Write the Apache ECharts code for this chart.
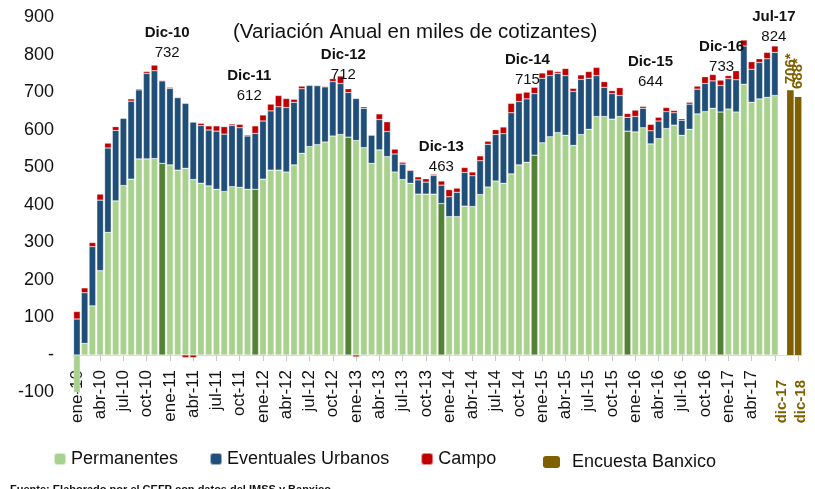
<!DOCTYPE html>
<html>
<head>
<meta charset="utf-8">
<script src="https://cdn.jsdelivr.net/npm/echarts@6/dist/echarts.min.js"></script>
<style>
  html, body { margin: 0; padding: 0; background: #fff; }
  #main { width: 815px; height: 489px; }
</style>
</head>
<body>
<div id="main"></div>
<script>
// categorias (ene-10 .. jul-17, hueco, dic-17, dic-18)
var meses = [
  'ene-10','feb-10','mar-10','abr-10','may-10','jun-10','jul-10','ago-10','sep-10','oct-10','nov-10','dic-10',
  'ene-11','feb-11','mar-11','abr-11','may-11','jun-11','jul-11','ago-11','sep-11','oct-11','nov-11','dic-11',
  'ene-12','feb-12','mar-12','abr-12','may-12','jun-12','jul-12','ago-12','sep-12','oct-12','nov-12','dic-12',
  'ene-13','feb-13','mar-13','abr-13','may-13','jun-13','jul-13','ago-13','sep-13','oct-13','nov-13','dic-13',
  'ene-14','feb-14','mar-14','abr-14','may-14','jun-14','jul-14','ago-14','sep-14','oct-14','nov-14','dic-14',
  'ene-15','feb-15','mar-15','abr-15','may-15','jun-15','jul-15','ago-15','sep-15','oct-15','nov-15','dic-15',
  'ene-16','feb-16','mar-16','abr-16','may-16','jun-16','jul-16','ago-16','sep-16','oct-16','nov-16','dic-16',
  'ene-17','feb-17','mar-17','abr-17','may-17','jun-17','jul-17'
];
var proyecciones = ['dic-17', 'dic-18'];

// miles de cotizantes
var permanentes = [
  -100, 31, 131, 225, 327, 411, 452, 469, 523, 523, 524, 511,
  507, 493, 498, 468, 458, 451, 442, 436, 449, 447, 442, 442,
  469, 493, 493, 488, 507, 538, 556, 561, 568, 584, 588, 581,
  572, 553, 511, 547, 529, 488, 468, 458, 429, 429, 429, 404,
  369, 369, 397, 396, 428, 448, 464, 458, 483, 507, 514, 533,
  566, 582, 593, 586, 559, 588, 602, 636, 636, 629, 636, 597,
  595, 606, 563, 577, 604, 613, 586, 602, 643, 649, 658, 648,
  656, 648, 722, 674, 683, 687, 692
];
var eventuales = [
  96, 135, 158, 188, 225, 188, 179, 208, 184, 228, 234, 220,
  204, 193, 173, 153, 154, 149, 155, 153, 163, 159, 142, 149,
  155, 158, 169, 172, 167, 172, 163, 157, 147, 145, 136, 119,
  112, 105, 75, 81, 67, 48, 41, 34, 38, 32, 50, 49,
  53, 65, 90, 82, 90, 114, 124, 132, 163, 169, 169, 164,
  172, 163, 158, 159, 144, 147, 136, 109, 78, 68, 56, 37,
  41, 52, 35, 47, 45, 33, 40, 67, 66, 75, 73, 71,
  81, 86, 102, 88, 97, 103, 115
];
var campo = [
  20, 13, 11, 16, 13, 10, -1, 6, 3, 5, 15, 2,
  3, 2, -7, -7, 6, 11, 14, 20, 4, 9, 3, 20,
  16, 18, 30, 24, 8, 7, -1, 2, 2, 8, 20, 10,
  -5, 4, -1, 15, 26, 13, 5, 2, 8, 9, 3, 11,
  19, 11, 13, 10, 13, 8, 13, 18, 25, 22, 18, 17,
  14, 15, 5, 19, 8, 12, 18, 22, 15, 8, 21, 10,
  17, 5, 17, 10, 11, 6, 4, 5, 8, 18, 17, 14,
  8, 24, 16, 20, 10, 17, 17
];
var encuestaBanxico = [706, 688];

// anotaciones
var notaMes = ['dic-10', 'dic-11', 'dic-12', 'dic-13', 'dic-14', 'dic-15', 'dic-16', 'jul-17'];
var notaTexto = ['Dic-10', 'Dic-11', 'Dic-12', 'Dic-13', 'Dic-14', 'Dic-15', 'Dic-16', 'Jul-17'];
var notaValor = [732, 612, 712, 463, 715, 644, 733, 824];
var notaOffset = [[5, -37], [-6, -40], [-5, -24], [0, -24], [-7, -17], [23, -42], [1, -23], [-1, -19]];

var categorias = meses.concat([''], proyecciones);
var n = categorias.length;

function pad(arr) {
  var out = arr.slice();
  while (out.length < n) out.push('-');
  return out;
}

var verde = '#A9D18E', verdeOscuro = '#548235', azul = '#1F4E79', rojo = '#C00000', oro = '#7F6000';
var fuente = "'Liberation Sans', Arial, sans-serif";

var permData = pad(permanentes).map(function (v, i) {
  if (v === '-') return v;
  if (meses[i].indexOf('dic') === 0) return { value: v, itemStyle: { color: verdeOscuro } };
  return v;
});

var banxicoOffset = [[2, 0], [4, 0]];
var banxicoData = [];
for (var i = 0; i < n; i++) {
  var k = proyecciones.indexOf(categorias[i]);
  banxicoData.push(k >= 0 ? { value: encuestaBanxico[k], label: { offset: banxicoOffset[k] } } : '-');
}

var marcas = notaMes.map(function (m, j) {
  var idx = meses.indexOf(m);
  var total = Math.max(permanentes[idx], 0) + eventuales[idx] + Math.max(campo[idx], 0);
  return {
    coord: [m, total],
    label: {
      formatter: '{n|' + notaTexto[j] + '}\n{v|' + notaValor[j] + '}',
      offset: notaOffset[j]
    }
  };
});

var myChart = echarts.init(document.getElementById('main'));

var borde = { borderColor: 'rgba(255,255,255,0.55)', borderWidth: 0.5 };
var textoLeyenda = { fontFamily: fuente, fontSize: 18, color: '#111' };
var etiquetaOro = { color: oro, fontWeight: 'bold', fontSize: 15, fontFamily: fuente };

var ejeBase = {
  type: 'category',
  position: 'bottom',
  data: categorias,
  // eje en el cero (375 px de alto, -100..900)
  offset: -37.5
};

var option = {
  animation: false,
  textStyle: { fontFamily: fuente },
  title: [{
    text: '(Variación Anual en miles de cotizantes)',
    left: 228, top: 17,
    textStyle: { fontFamily: fuente, fontSize: 20.5, fontWeight: 'normal', color: '#111' }
  }, {
    text: 'Fuente: Elaborado por el CEFP con datos del IMSS y Banxico.',
    left: 5, top: 479,
    textStyle: { fontFamily: fuente, fontSize: 11, fontWeight: 'bold', color: '#111' }
  }],
  legend: [{
    left: 53, top: 450, padding: 0,
    itemWidth: 12, itemHeight: 12, itemGap: 31,
    textStyle: textoLeyenda,
    data: ['Permanentes', 'Eventuales Urbanos', 'Campo']
  }, {
    left: 543, top: 453, padding: 0,
    itemWidth: 17, itemHeight: 12,
    textStyle: Object.assign({ padding: [0, 0, 0, 7] }, textoLeyenda),
    data: ['Encuesta Banxico']
  }],
  grid: { left: 73, right: 13, top: 17.5, bottom: 96.5 },
  xAxis: [Object.assign({}, ejeBase, {
    axisLine: { onZero: false, lineStyle: { color: '#D9D9D9' } },
    axisTick: {
      show: true, alignWithLabel: true, length: 6,
      interval: function (i) { return i % 3 === 0; },
      lineStyle: { color: '#C8C8C8' }
    },
    axisLabel: {
      rotate: 90, margin: 15, hideOverlap: false,
      fontFamily: fuente, fontSize: 17, color: '#111',
      interval: function (i, v) {
        if (v === 'dic-17') return true;
        return v !== '' && v !== 'jul-17' && v !== 'dic-18' && i % 3 === 0;
      },
      formatter: function (v) {
        return v === 'dic-17' ? '{g|' + v + '}' : v;
      },
      rich: { g: Object.assign({ padding: [0, 10, 18, 0] }, etiquetaOro) }
    }
  }), Object.assign({}, ejeBase, {
    // segunda capa solo para la etiqueta dic-18
    axisLine: { show: false, onZero: false },
    axisTick: { show: false },
    axisLabel: {
      rotate: 90, margin: 15,
      interval: function (i, v) { return v === 'dic-18'; },
      formatter: function (v) { return '{g|' + v + '}'; },
      rich: { g: Object.assign({ padding: [6, 10, 0, 0] }, etiquetaOro) }
    }
  })],
  yAxis: {
    type: 'value',
    min: -100, max: 900, interval: 100,
    splitLine: { show: false },
    axisLine: { show: false },
    axisTick: { show: false },
    axisLabel: {
      margin: 19, fontFamily: fuente, fontSize: 18, color: '#111',
      formatter: function (v) { return v === 0 ? '-' : v; }
    }
  },
  series: [{
    name: 'Permanentes', type: 'bar', stack: 'total',
    barCategoryGap: '15%',
    itemStyle: Object.assign({ color: verde }, borde),
    data: permData
  }, {
    name: 'Eventuales Urbanos', type: 'bar', stack: 'total',
    itemStyle: Object.assign({ color: azul }, borde),
    data: pad(eventuales)
  }, {
    name: 'Campo', type: 'bar', stack: 'total',
    itemStyle: Object.assign({ color: rojo }, borde),
    data: pad(campo),
    markPoint: {
      symbol: 'circle', symbolSize: 0,
      label: {
        show: true, position: 'inside',
        rich: {
          n: { fontFamily: fuente, fontSize: 15, fontWeight: 'bold', color: '#111', lineHeight: 20 },
          v: { fontFamily: fuente, fontSize: 15, color: '#111', lineHeight: 20 }
        }
      },
      data: marcas
    }
  }, {
    name: 'Encuesta Banxico', type: 'bar', stack: 'total',
    itemStyle: { color: oro },
    label: {
      show: true, position: 'top', rotate: 90, distance: 4,
      align: 'left', verticalAlign: 'middle',
      fontFamily: fuente, fontSize: 15, fontWeight: 'bold', color: oro,
      formatter: '{c}*'
    },
    data: banxicoData
  }]
};

myChart.setOption(option);
</script>
</body>
</html>
